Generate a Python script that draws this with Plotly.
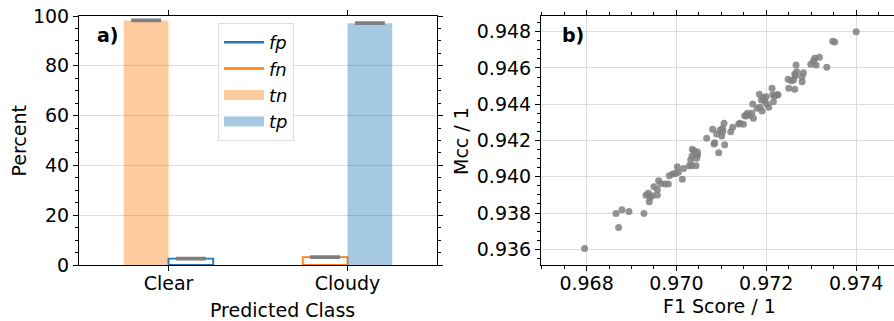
import plotly.graph_objects as go

# ---------------- data ----------------
classes = ["Clear", "Cloudy"]
tn_pct = [98.2]   # Clear
fp_pct = [2.6]    # Clear
fn_pct = [3.2]    # Cloudy
tp_pct = [97.1]   # Cloudy
tn_err = [0.15]
fp_err = [0.15]
fn_err = [0.15]
tp_err = [0.15]

f1_score = [0.967955, 0.968654, 0.968713, 0.968787, 0.968943, 0.969277, 0.969322, 0.969374,
            0.969411, 0.969463, 0.969575, 0.969575, 0.969396, 0.969500, 0.969604, 0.969649,
            0.969745, 0.969820, 0.969842, 0.969916, 0.969976, 0.970020, 0.970042, 0.970132,
            0.970161, 0.970287, 0.970339, 0.970436, 0.970347, 0.970354, 0.970391, 0.970436,
            0.970473, 0.970451, 0.970466, 0.970317, 0.970674, 0.970807, 0.970837, 0.970852,
            0.970896, 0.970941, 0.970971, 0.971008, 0.971030, 0.971060, 0.971075, 0.971030,
            0.971208, 0.971253, 0.971387, 0.971416, 0.971491, 0.971520, 0.971550, 0.971580,
            0.971610, 0.971676, 0.971699, 0.971713, 0.971795, 0.971847, 0.971862, 0.971892,
            0.971907, 0.971936, 0.971966, 0.971996, 0.972011, 0.972055, 0.972129, 0.972144,
            0.972159, 0.972189, 0.972233, 0.972263, 0.972486, 0.972501, 0.972560, 0.972605,
            0.972634, 0.972649, 0.972664, 0.972679, 0.972634, 0.972798, 0.972798, 0.972827,
            0.972991, 0.973050, 0.973080, 0.973110, 0.973184, 0.973347, 0.973481, 0.973525,
            0.974001]
mcc_score = [0.936051, 0.937982, 0.937210, 0.938184, 0.938092, 0.937982, 0.938975, 0.939085,
             0.938864, 0.938956, 0.938993, 0.939305, 0.938625, 0.939452, 0.939783, 0.939636,
             0.939599, 0.939599, 0.940059, 0.940151, 0.940187, 0.940555, 0.940243, 0.939857,
             0.940463, 0.940610, 0.940610, 0.940610, 0.941143, 0.941511, 0.941419, 0.941290,
             0.941199, 0.941015, 0.941382, 0.940923, 0.942118, 0.942614, 0.941805, 0.941879,
             0.942357, 0.941327, 0.942577, 0.942246, 0.942485, 0.942945, 0.941768, 0.942669,
             0.942485, 0.942724, 0.942908, 0.942945, 0.942890, 0.943368, 0.943349, 0.943496,
             0.943386, 0.943496, 0.944011, 0.943221, 0.943772, 0.944544, 0.943827, 0.944232,
             0.943625, 0.944360, 0.944195, 0.944415, 0.944011, 0.943827, 0.944875, 0.944526,
             0.944140, 0.944452, 0.944526, 0.944526, 0.945371, 0.944875, 0.945298, 0.945335,
             0.944820, 0.945555, 0.946162, 0.945794, 0.945665, 0.945518, 0.945243, 0.945739,
             0.946199, 0.946382, 0.946529, 0.946162, 0.946585, 0.946033, 0.947467, 0.947430,
             0.948000]

BLUE = "#1f77b4"
ORANGE = "#ff7f0e"
BLUE_A = "rgba(31,119,180,0.4)"
ORANGE_A = "rgba(255,127,14,0.4)"
FONT = "DejaVu Sans"

fig = go.Figure()

err_style = dict(type="data", color="#7f7f7f", thickness=3, width=15)

fig.add_trace(go.Bar(x=[classes[0]], y=tn_pct, width=0.25, offset=-0.25,
                     marker=dict(color=ORANGE_A, line=dict(width=0)),
                     error_y=dict(array=tn_err, **err_style), showlegend=False))
fig.add_trace(go.Bar(x=[classes[0]], y=fp_pct, width=0.25, offset=0.0,
                     marker=dict(color="rgba(0,0,0,0)", line=dict(color=BLUE, width=1.8)),
                     error_y=dict(array=fp_err, **err_style), showlegend=False))
fig.add_trace(go.Bar(x=[classes[1]], y=fn_pct, width=0.25, offset=-0.25,
                     marker=dict(color="rgba(0,0,0,0)", line=dict(color=ORANGE, width=1.8)),
                     error_y=dict(array=fn_err, **err_style), showlegend=False))
fig.add_trace(go.Bar(x=[classes[1]], y=tp_pct, width=0.25, offset=0.0,
                     marker=dict(color=BLUE_A, line=dict(width=0)),
                     error_y=dict(array=tp_err, **err_style), showlegend=False))

# legend proxies
fig.add_trace(go.Scatter(x=[None], y=[None], mode="lines", line=dict(color=BLUE, width=2.5),
                         name="<i>fp</i>"))
fig.add_trace(go.Scatter(x=[None], y=[None], mode="lines", line=dict(color=ORANGE, width=2.5),
                         name="<i>fn</i>"))
fig.add_trace(go.Scatter(x=[None], y=[None], mode="lines", line=dict(color=ORANGE_A, width=13),
                         name="<i>tn</i>"))
fig.add_trace(go.Scatter(x=[None], y=[None], mode="lines", line=dict(color=BLUE_A, width=13),
                         name="<i>tp</i>"))

fig.add_trace(go.Scatter(x=f1_score, y=mcc_score, mode="markers", xaxis="x2", yaxis="y2",
                         marker=dict(color="rgba(128,128,128,0.85)", size=7, line=dict(width=0)),
                         showlegend=False))

ax_common = dict(showline=True, linecolor="black", linewidth=1, mirror="ticks",
                 ticks="outside", ticklen=5, tickwidth=1, tickcolor="black", automargin=False,
                 tickfont=dict(family=FONT, size=19, color="black"), zeroline=False)

ydom = [1 - 265 / 321, 1 - 16 / 321]

fig.update_layout(
    width=894, height=321,
    margin=dict(l=0, r=0, t=0, b=0, autoexpand=False),
    paper_bgcolor="white", plot_bgcolor="white",
    barmode="overlay",
    font=dict(family=FONT, color="black"),
    xaxis=dict(domain=[79 / 894, 437 / 894], type="category", range=[-0.5, 1.5],
               showgrid=False, ticklabelstandoff=-4, **ax_common),
    yaxis=dict(domain=ydom, range=[0, 100], dtick=20, showgrid=True, gridcolor="#dcdcdc",
               gridwidth=1,
               minor=dict(dtick=5, ticks="outside", ticklen=3, tickcolor="black", showgrid=False),
               **ax_common),
    xaxis2=dict(domain=[541 / 894, 1.0], anchor="y2", range=[0.966985, 0.974844],
                tick0=0.968, dtick=0.002, tickformat=".3f", showgrid=True, gridcolor="#dcdcdc",
                ticklabelstandoff=-4,
                minor=dict(dtick=0.0005, ticks="outside", ticklen=3, tickcolor="black", showgrid=False),
                **ax_common),
    yaxis2=dict(domain=ydom, anchor="x2", range=[0.935136, 0.948864],
                tick0=0.936, dtick=0.002, tickformat=".3f", showgrid=True, gridcolor="#dcdcdc",
                minor=dict(dtick=0.0005, ticks="outside", ticklen=3, tickcolor="black", showgrid=False),
                **ax_common),
    legend=dict(x=218 / 894, y=1 - 23 / 321, xanchor="left", yanchor="top",
                bgcolor="rgba(255,255,255,0.85)", bordercolor="#dddddd", borderwidth=1,
                font=dict(family=FONT, size=18, color="black"), itemwidth=40,
                traceorder="normal"),
    annotations=[
        dict(text="<b>a)</b>", x=95 / 894, y=1 - 35 / 321, xref="paper", yref="paper",
             xanchor="left", yanchor="middle", showarrow=False,
             font=dict(family=FONT, size=19, color="black")),
        dict(text="<b>b)</b>", x=560 / 894, y=1 - 35 / 321, xref="paper", yref="paper",
             xanchor="left", yanchor="middle", showarrow=False,
             font=dict(family=FONT, size=19, color="black")),
        dict(text="Percent", x=18 / 894, y=1 - 140.5 / 321, xref="paper", yref="paper",
             textangle=-90, showarrow=False, xanchor="center", yanchor="middle",
             font=dict(family=FONT, size=19, color="black")),
        dict(text="Predicted Class", x=282 / 894, y=1 - 310 / 321, xref="paper", yref="paper",
             showarrow=False, xanchor="center", yanchor="middle",
             font=dict(family=FONT, size=19, color="black")),
        dict(text="F1 Score / 1", x=719.5 / 894, y=1 - 306 / 321, xref="paper", yref="paper",
             showarrow=False, xanchor="center", yanchor="middle",
             font=dict(family=FONT, size=19, color="black")),
        dict(text="Mcc / 1", x=461 / 894, y=1 - 141 / 321, xref="paper", yref="paper",
             textangle=-90, showarrow=False, xanchor="center", yanchor="middle",
             font=dict(family=FONT, size=19, color="black")),
    ],
)

fig.write_html("out.html")
